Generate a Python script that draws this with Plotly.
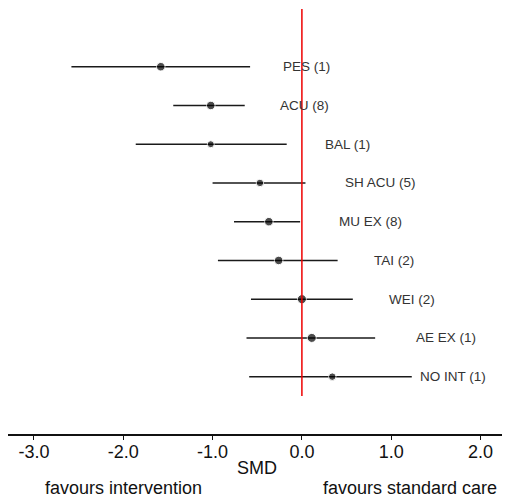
import plotly.graph_objects as go

# Standardised mean differences with 95% confidence intervals, one row per intervention
interventions = ["PES (1)", "ACU (8)", "BAL (1)", "SH ACU (5)", "MU EX (8)",
                 "TAI (2)", "WEI (2)", "AE EX (1)", "NO INT (1)"]
smd = [-1.58, -1.02, -1.02, -0.47, -0.37, -0.26, 0.00, 0.11, 0.34]
ci_low = [-2.58, -1.44, -1.86, -1.00, -0.76, -0.94, -0.57, -0.62, -0.59]
ci_high = [-0.58, -0.64, -0.17, 0.04, -0.02, 0.40, 0.57, 0.82, 1.23]

tick_values = [-3.0, -2.0, -1.0, 0.0, 1.0, 2.0]
tick_labels = ["-3.0", "-2.0", "-1.0", "0.0", "1.0", "2.0"]

# Layout-only settings
x_range = [-3.29, 2.24]
y_range = [9.48, -1.49]
label_x = [-0.235, -0.27, 0.235, 0.46, 0.39, 0.785, 0.95, 1.25, 1.305]
marker_sizes = [8.5, 8.5, 7, 7.5, 8.5, 8.5, 9, 9, 7.5]
FONT = "Liberation Sans, Arial, sans-serif"

rows = list(range(len(interventions)))
plus = [h - m for h, m in zip(ci_high, smd)]
minus = [m - l for m, l in zip(smd, ci_low)]

fig = go.Figure()

fig.add_trace(go.Scatter(
    x=smd, y=rows, mode="markers",
    marker=dict(color="black", size=marker_sizes),
    error_x=dict(type="data", symmetric=False, array=plus, arrayminus=minus,
                 color="#1a1a1a", thickness=1.5, width=0),
    showlegend=False, hoverinfo="skip",
))

# Line of no effect
fig.add_shape(type="line", xref="x", yref="y", x0=0, x1=0, y0=8.5, y1=y_range[1],
              line=dict(color="#ee0000", width=1.5), layer="above")

for name, lx, r in zip(interventions, label_x, rows):
    fig.add_annotation(x=lx, y=r, xref="x", yref="y", text=name, showarrow=False,
                       xanchor="left", yanchor="middle",
                       font=dict(family=FONT, size=13.5, color="#333333"))

fig.add_annotation(x=-0.5, y=-0.08, xref="x", yref="paper", text="SMD", showarrow=False,
                   xanchor="center", yanchor="middle",
                   font=dict(family=FONT, size=18, color="#111111"))
fig.add_annotation(x=-2.0, y=-0.127, xref="x", yref="paper", text="favours intervention",
                   showarrow=False, xanchor="center", yanchor="middle",
                   font=dict(family=FONT, size=18, color="#111111"))
fig.add_annotation(x=1.21, y=-0.127, xref="x", yref="paper", text="favours standard care",
                   showarrow=False, xanchor="center", yanchor="middle",
                   font=dict(family=FONT, size=18, color="#111111"))

fig.update_xaxes(range=x_range, showgrid=False, zeroline=False,
                 showline=True, linecolor="#111111", linewidth=1.5,
                 ticks="outside", ticklen=4, tickwidth=1.2, tickcolor="#111111",
                 tickvals=tick_values, ticktext=tick_labels,
                 ticklabelstandoff=-3,
                 tickfont=dict(family=FONT, size=18, color="#111111"))
fig.update_yaxes(range=y_range, visible=False, showgrid=False, zeroline=False)

fig.update_layout(
    width=505, height=501,
    margin=dict(l=8, r=3, t=9, b=67),
    paper_bgcolor="white", plot_bgcolor="white",
)

fig.write_html("out.html")
